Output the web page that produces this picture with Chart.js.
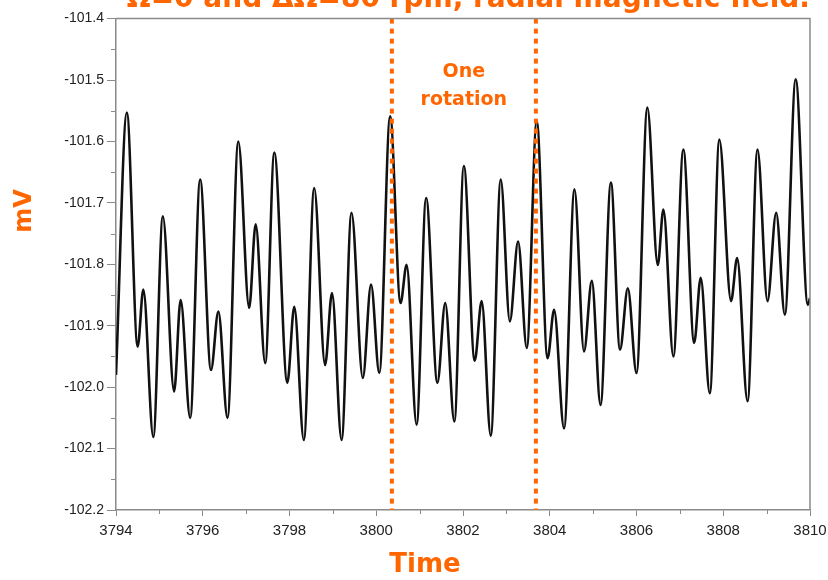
<!DOCTYPE html>
<html lang="en">
<head>
<meta charset="UTF-8">
<title>Signal over one rotation</title>
<style>
  body { margin: 0; background: #fff; }
  canvas { display: block; }
</style>
</head>
<body>
<canvas id="signalChart" width="828" height="580"></canvas>

<script src="https://cdn.jsdelivr.net/npm/chart.js"></script>
<script>
// values (peaks and dips), time in s, signal in mV
const times = [
  3794.00, 3794.25, 3794.50, 3794.63, 3794.86, 3795.08, 3795.34, 3795.49, 3795.71, 3795.94,
  3796.19, 3796.36, 3796.57, 3796.82, 3797.07, 3797.22, 3797.44, 3797.65, 3797.95, 3798.11,
  3798.33, 3798.57, 3798.82, 3798.98, 3799.20, 3799.43, 3799.69, 3799.88, 3800.07, 3800.32,
  3800.56, 3800.70, 3800.93, 3801.15, 3801.41, 3801.59, 3801.80, 3802.02, 3802.27, 3802.43,
  3802.64, 3802.87, 3803.08, 3803.27, 3803.47, 3803.70, 3803.95, 3804.10, 3804.33, 3804.57,
  3804.79, 3804.97, 3805.17, 3805.41, 3805.62, 3805.80, 3806.00, 3806.25, 3806.49, 3806.62,
  3806.85, 3807.08, 3807.33, 3807.48, 3807.69, 3807.91, 3808.18, 3808.32, 3808.56, 3808.79,
  3809.02, 3809.22, 3809.42, 3809.67, 3809.95, 3810.00
];
const millivolts = [
  -101.980, -101.553, -101.934, -101.841, -102.081, -101.722, -102.007, -101.858, -102.050, -101.662,
  -101.972, -101.877, -102.050, -101.600, -101.871, -101.735, -101.961, -101.618, -101.993, -101.869,
  -102.086, -101.676, -101.964, -101.847, -102.086, -101.716, -101.985, -101.833, -101.977, -101.559,
  -101.863, -101.801, -102.061, -101.692, -101.993, -101.863, -102.056, -101.640, -101.957, -101.860,
  -102.079, -101.662, -101.893, -101.763, -101.936, -101.567, -101.953, -101.874, -102.067, -101.678,
  -101.942, -101.827, -102.029, -101.667, -101.939, -101.839, -101.977, -101.545, -101.801, -101.711,
  -101.950, -101.613, -101.928, -101.822, -102.010, -101.597, -101.860, -101.790, -102.023, -101.613,
  -101.860, -101.716, -101.882, -101.499, -101.866, -101.855
];
const rotationMarks = [3800.36, 3803.68];
const timeTicks = [3794, 3796, 3798, 3800, 3802, 3804, 3806, 3808, 3810];
const mvTicks = [-102.2, -102.1, -102.0, -101.9, -101.8, -101.7, -101.6, -101.5, -101.4];

const titleText = 'Ω=0 and ΔΩ=80 rpm, radial magnetic field.';
const orange = '#ff6600';
const axisGray = '#8a8a8a';

const yMin = mvTicks[0], yMax = mvTicks[mvTicks.length - 1];

// minor ticks halfway between the labelled ones
function halfway(list) {
  const out = [];
  for (let i = 0; i < list.length - 1; i++) out.push((list[i] + list[i + 1]) / 2);
  return out;
}

const overlay = {
  id: 'overlay',
  afterDraw(chart) {
    const ctx = chart.ctx;
    const area = chart.chartArea;
    const xs = chart.scales.x, ys = chart.scales.y;
    ctx.save();

    // frame on top and right
    ctx.strokeStyle = axisGray;
    ctx.lineWidth = 1.5;
    ctx.beginPath();
    ctx.moveTo(area.left, area.top);
    ctx.lineTo(area.right, area.top);
    ctx.lineTo(area.right, area.bottom);
    ctx.stroke();

    // minor ticks
    ctx.lineWidth = 1;
    ctx.beginPath();
    halfway(mvTicks).forEach(v => {
      const y = Math.round(ys.getPixelForValue(v)) + 0.5;
      ctx.moveTo(area.left - 5, y);
      ctx.lineTo(area.left, y);
    });
    halfway(timeTicks).forEach(v => {
      const x = Math.round(xs.getPixelForValue(v)) + 0.5;
      ctx.moveTo(x, area.bottom);
      ctx.lineTo(x, area.bottom + 4);
    });
    ctx.stroke();

    ctx.fillStyle = orange;
    ctx.textAlign = 'center';
    ctx.textBaseline = 'middle';

    // annotation between the two marks
    const mid = (xs.getPixelForValue(rotationMarks[0]) + xs.getPixelForValue(rotationMarks[1])) / 2;
    ctx.font = 'bold 19px "DejaVu Sans", sans-serif';
    ctx.fillText('One', mid, 72);
    ctx.fillText('rotation', mid, 100);

    // axis titles
    ctx.font = 'bold 26px "DejaVu Sans", sans-serif';
    ctx.fillText('Time', 425, 565);
    ctx.translate(25, 211);
    ctx.rotate(-Math.PI / 2);
    ctx.font = 'bold 24px "DejaVu Sans", sans-serif';
    ctx.fillText('mV', 0, 0);
    ctx.restore();
  }
};

const markSets = rotationMarks.map(t => ({
  data: [{ x: t, y: yMax }, { x: t, y: yMin }],
  borderColor: orange,
  borderWidth: 4,
  borderDash: [5, 5],
  pointRadius: 0,
  order: 1
}));

new Chart(document.getElementById('signalChart'), {
  type: 'line',
  data: {
    datasets: [
      {
        data: times.map((t, i) => ({ x: t, y: millivolts[i] })),
        borderColor: '#111',
        borderWidth: 2.6,
        pointRadius: 0,
        cubicInterpolationMode: 'monotone',
        order: 2
      },
      ...markSets
    ]
  },
  options: {
    responsive: false,
    animation: false,
    layout: { padding: { left: 0, right: 18, top: 0, bottom: 0 } },
    plugins: {
      legend: { display: false },
      tooltip: { enabled: false },
      title: {
        display: true,
        text: titleText,
        align: 'end',
        color: orange,
        font: { family: 'DejaVu Sans', size: 28, weight: 'bold' },
        padding: { top: -17, bottom: 2 }
      }
    },
    scales: {
      x: {
        type: 'linear',
        min: timeTicks[0],
        max: timeTicks[timeTicks.length - 1],
        afterBuildTicks: s => { s.ticks = timeTicks.map(v => ({ value: v })); },
        afterFit: s => { s.height = 70; s.paddingLeft = 0; s.paddingRight = 0; },
        grid: { drawOnChartArea: false, tickLength: 6, color: axisGray },
        border: { color: axisGray, width: 1.5 },
        ticks: {
          color: '#222',
          padding: 6,
          maxRotation: 0,
          autoSkip: false,
          font: { family: 'Liberation Sans', size: 15 },
          callback: v => String(v)
        }
      },
      y: {
        min: yMin,
        max: yMax,
        afterBuildTicks: s => { s.ticks = mvTicks.map(v => ({ value: v })); },
        afterFit: s => { s.width = 116; },
        grid: { drawOnChartArea: false, tickLength: 9, color: axisGray },
        border: { color: axisGray, width: 1.5 },
        ticks: {
          color: '#222',
          padding: 3,
          autoSkip: false,
          font: { family: 'Liberation Sans', size: 14 },
          callback: v => v.toFixed(1)
        }
      }
    }
  },
  plugins: [overlay]
});
</script>
</body>
</html>
